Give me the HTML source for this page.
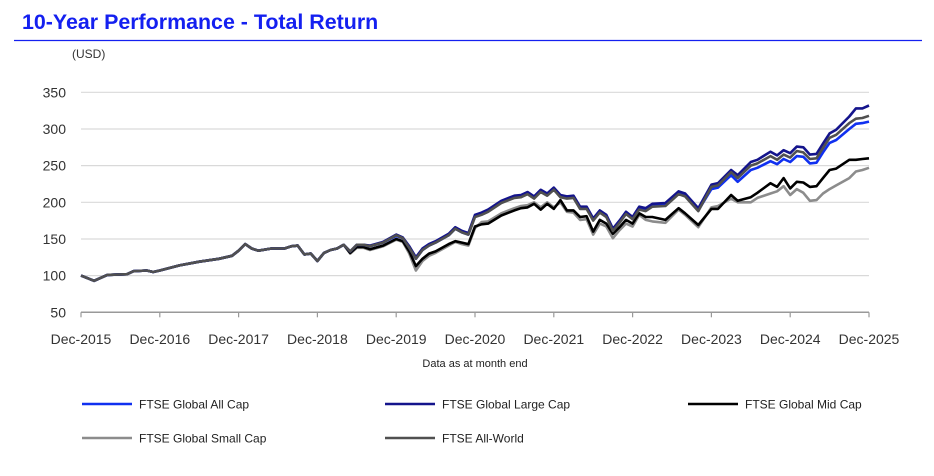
<!DOCTYPE html>
<html><head><meta charset="utf-8"><style>
body{margin:0;background:#fff;font-family:"Liberation Sans",Arial,sans-serif;}
#wrap{position:relative;width:934px;height:476px;overflow:hidden;}
</style></head><body>
<div id="wrap">
<svg id="svg" width="934" height="476" xmlns="http://www.w3.org/2000/svg">
<text x="22" y="29" font-size="21.4" font-weight="bold" fill="#1420f0" font-family="Liberation Sans, sans-serif">10-Year Performance - Total Return</text>
<line x1="14" y1="40.5" x2="922" y2="40.5" stroke="#1420f0" stroke-width="1.3"/>
<text x="72" y="58" font-size="12" fill="#333" font-family="Liberation Sans, sans-serif">(USD)</text>
<g id="grid"></g><g id="yt"></g><g id="xt"></g><g id="series"></g>
<text x="475" y="367" font-size="11" fill="#222" text-anchor="middle" font-family="Liberation Sans, sans-serif">Data as at month end</text>
<g id="legend"></g>
</svg>
</div>
<script>
const yTicks=[50,100,150,200,250,300,350];
const xLabels=["Dec-2015","Dec-2016","Dec-2017","Dec-2018","Dec-2019","Dec-2020","Dec-2021","Dec-2022","Dec-2023","Dec-2024","Dec-2025"];
const months=[0,2,4,7,8,10,11,12,15,18,21,23,24,25,26,27,29,31,32,33,34,35,36,37,38,39,40,41,42,43,44,46,48,
49,50,51,52,53,54,56,57,58,59,60,61,62,64,66,67,68,69,70,71,72,73,74,75,76,77,78,79,80,81,82,83,84,85,86,87,
89,91,92,94,96,97,99,100,102,103,105,106,107,108,109,110,111,112,113,114,115,117,118,119,120];
const pre=[100,93,101,102,106,107,105,107,114,119,123,127,134,143,137,134,137,137,140,141,129,130,120,131,135,137,142,133];
const allCap=pre.concat([142,142,140,145,154,
151,138,123,135,141,145,155,164,159,156,181,184,188,
200,207,208,212,206,215,210,218,208,206,207,192,192,176,187,181,162,173,185,178,191,189,195,
196,212,209,189,218,220,237,228,244,247,256,252,259,255,263,262,253,254,268,281,285,300,307,308,310]);
const largeCap=pre.concat([142,142,141,146,156,
152,140,125,137,143,147,157,166,161,158,183,186,190,
202,209,210,214,208,217,212,220,210,208,209,194,194,178,189,183,164,175,187,180,194,192,198,
199,215,212,192,224,226,244,237,255,258,269,264,271,267,276,275,265,266,280,294,299,317,328,328,332]);
const midCap=pre.slice(0,27).concat([131,139,139,136,141,150,
147,133,113,123,130,133,143,147,145,143,167,170,171,
182,189,192,193,198,190,198,191,203,189,189,180,181,160,176,171,157,166,176,171,185,180,180,
176,192,185,169,191,191,210,202,207,213,226,221,233,219,228,227,221,222,233,244,246,258,258,259,260]);
const smallCap=pre.slice(0,27).concat([130,138,138,135,140,149,
146,130,107,120,127,131,141,146,143,141,165,173,174,
185,192,195,196,200,193,200,193,200,187,186,176,177,156,171,167,151,162,171,167,183,176,174,
172,190,183,166,193,195,205,200,200,206,212,215,222,210,218,213,202,203,212,218,223,233,242,244,247]);
const allWorld=pre.concat([142,142,140,145,155,
151,138,123,135,141,145,155,164,159,156,180,183,187,
199,206,207,211,205,214,209,217,207,205,206,191,191,175,186,180,161,172,184,177,190,188,194,
195,211,208,188,221,223,241,233,250,253,263,258,265,261,270,268,259,260,274,288,292,308,314,315,318]);

const NS="http://www.w3.org/2000/svg";
const X0=81,X1=869,Y50=312.3,Y350=92.3;
const xs=m=>X0+(X1-X0)*m/120;
const ys=v=>Y50-(v-50)*(Y50-Y350)/300;
function mk(tag,attrs,parent){const e=document.createElementNS(NS,tag);for(const k in attrs)e.setAttribute(k,attrs[k]);parent.appendChild(e);return e;}
const grid=document.getElementById('grid'),yt=document.getElementById('yt'),xt=document.getElementById('xt');
yTicks.forEach(v=>{
  const y=ys(v);
  if(v>50){const l=mk('line',{x1:X0,x2:X1,y1:y,y2:y,stroke:'#d9d9d9','stroke-width':1.2},grid);
  
  }
  const t=mk('text',{x:66,y:y+5,'text-anchor':'end','font-size':14,fill:'#333'},yt);
  t.textContent=v;
  
  
});
const ax=mk('line',{x1:X0,x2:X1,y1:Y50,y2:Y50,stroke:'#999','stroke-width':1.5},grid);


xLabels.forEach((s,i)=>{
  const x=xs(i*12);
  const tk=mk('line',{x1:x,x2:x,y1:Y50,y2:Y50+5,stroke:'#999','stroke-width':1.2},xt);
  
  
  const t=mk('text',{x:x,y:344,'text-anchor':'middle','font-size':14,fill:'#333'},xt);
  t.textContent=s;
  
  
});
const seriesList=[
 {name:'FTSE Global Small Cap',vals:smallCap,color:'#8c8c8c',key:'small-cap'},
 {name:'FTSE Global Mid Cap',vals:midCap,color:'#000000',key:'mid-cap'},
 {name:'FTSE Global All Cap',vals:allCap,color:'#1030f0',key:'all-cap'},
 {name:'FTSE Global Large Cap',vals:largeCap,color:'#14148c',key:'large-cap'},
 {name:'FTSE All-World',vals:allWorld,color:'#505050',key:'all-world'}];
const sg=document.getElementById('series');
seriesList.forEach(s=>{
  const d=months.map((m,i)=>(i?'L':'M')+xs(m).toFixed(1)+','+ys(s.vals[i]).toFixed(1)).join('');
  const p=mk('path',{d:d,fill:'none',stroke:s.color,'stroke-width':2.6,'stroke-linejoin':'round'},sg);
  
  
});
const legendItems=[
 {name:'FTSE Global All Cap',color:'#1030f0',x:82,y:404,key:'all-cap'},
 {name:'FTSE Global Large Cap',color:'#14148c',x:385,y:404,key:'large-cap'},
 {name:'FTSE Global Mid Cap',color:'#000000',x:688,y:404,key:'mid-cap'},
 {name:'FTSE Global Small Cap',color:'#8c8c8c',x:82,y:438,key:'small-cap'},
 {name:'FTSE All-World',color:'#505050',x:385,y:438,key:'all-world'}];
const lg=document.getElementById('legend');
legendItems.forEach(it=>{
  const g=mk('g',{},lg);
  
  
  mk('line',{x1:it.x,x2:it.x+50,y1:it.y,y2:it.y,stroke:it.color,'stroke-width':2.6},g);
  const t=mk('text',{x:it.x+57,y:it.y+4.5,'font-size':12,fill:'#222'},g);
  t.textContent=it.name;
});
</script>
</body></html>
